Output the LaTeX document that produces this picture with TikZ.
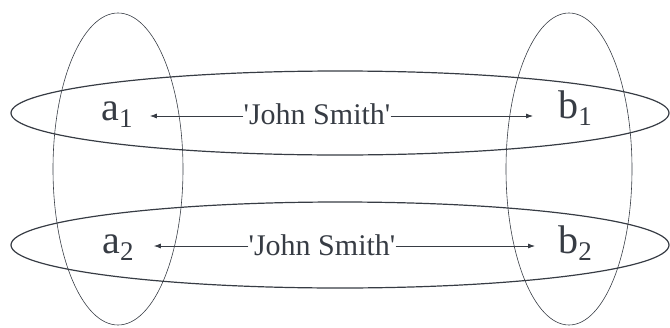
\documentclass[tikz,border=0pt]{standalone}
\usepackage{fontspec}
\setmainfont{Liberation Serif}
\usepackage{tikz}
\usetikzlibrary{arrows.meta}

\definecolor{inkgray}{RGB}{55,60,68}
\newcommand{\elemsub}[1]{\raisebox{-7pt}{\fontsize{27}{27}\selectfont #1}}

\begin{document}
\begin{tikzpicture}[yscale=-1
  ,setstyle/.style={color=inkgray,line width=0.6pt}
  ,rowstyle/.style={color=inkgray,line width=1.2pt}
  ,arrstyle/.style={color=inkgray,line width=0.8pt,-{Latex[length=7pt,width=5pt]}}
  ,elemstyle/.style={color=inkgray,inner sep=0pt,font=\fontsize{40}{44}\selectfont}
  ,valstyle/.style={color=inkgray,inner sep=0pt,font=\fontsize{30}{34}\selectfont}
]
\useasboundingbox (0pt,0pt) rectangle (670pt,327pt);

% --- vertical sets ---
\draw[setstyle] (118pt,169pt) ellipse (65pt and 156pt);
\draw[setstyle] (569pt,169pt) ellipse (63pt and 156pt);

% --- horizontal rows ---
\draw[rowstyle] (340pt,113pt) ellipse (329pt and 42pt);
\draw[rowstyle] (340pt,245pt) ellipse (329pt and 43pt);

% --- elements ---
\node[elemstyle,anchor=base] (a1) at (117pt,120pt) {a\elemsub{1}};
\node[elemstyle,anchor=base] (b1) at (575pt,118pt) {b\elemsub{1}};
\node[elemstyle,anchor=base] (a2) at (118pt,253pt) {a\elemsub{2}};
\node[elemstyle,anchor=base] (b2) at (575pt,253pt) {b\elemsub{2}};

% --- values ---
\node[valstyle,anchor=base] (v1) at (317pt,124pt) {\textquotesingle John Smith\textquotesingle};
\node[valstyle,anchor=base] (v2) at (322pt,255pt) {\textquotesingle John Smith\textquotesingle};

% --- arrows ---
\draw[arrstyle,shorten >=17pt] (v1.west |- 0,116pt) -- (a1.east |- 0,116pt);
\draw[arrstyle,shorten >=25pt] (v1.east |- 0,116pt) -- (b1.west |- 0,116pt);
\draw[arrstyle,shorten >=20pt] (v2.west |- 0,246pt) -- (a2.east |- 0,246pt);
\draw[arrstyle,shorten >=23pt] (v2.east |- 0,246pt) -- (b2.west |- 0,246pt);

\end{tikzpicture}
\end{document}
